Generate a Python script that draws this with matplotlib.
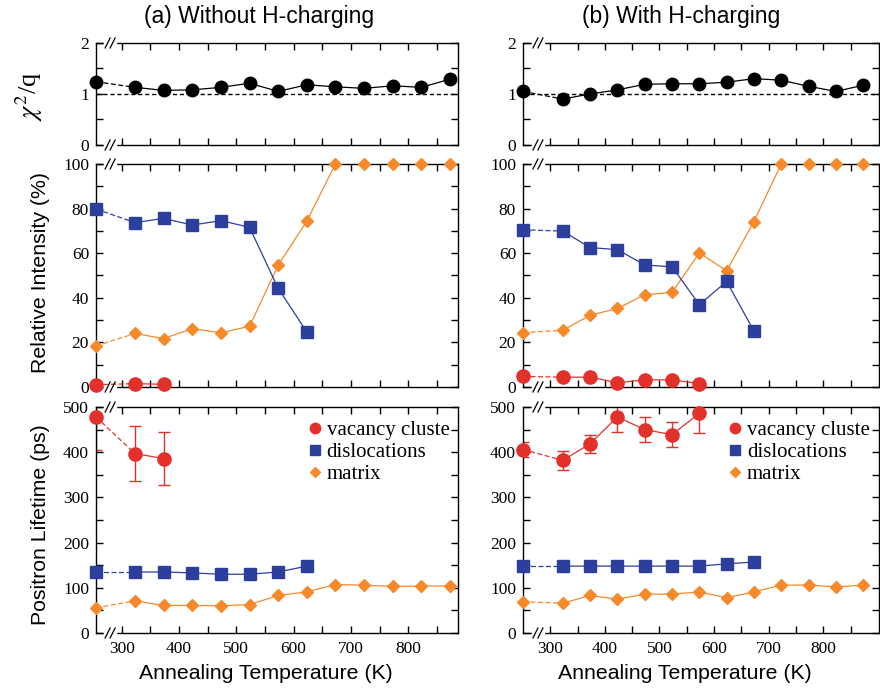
import matplotlib
matplotlib.use('Agg')
import matplotlib.pyplot as plt
from matplotlib.lines import Line2D
from matplotlib.ticker import FixedLocator, MultipleLocator

plt.rcParams['font.family'] = 'Liberation Serif'
plt.rcParams['mathtext.fontset'] = 'stix'
plt.rcParams['axes.linewidth'] = 1.0

SANS = 'Liberation Sans'
RED = '#e2312b'
BLUE = '#2c3f9c'
ORANGE = '#f6892a'
DASH = (0, (4, 2))

# annealing temperatures (K); first entry = as-received, drawn on the left edge
temp_a = [255, 323, 373, 423, 473, 523, 573, 623, 673, 723, 773, 823, 873]
temp_b = [250, 323, 373, 423, 473, 523, 573, 623, 673, 723, 773, 823, 873]

# (a) without H-charging
chi_a = [1.24, 1.13, 1.07, 1.08, 1.13, 1.21, 1.05, 1.18, 1.14, 1.11, 1.16, 1.13, 1.29]
vac_int_a = [1.0, 1.5, 1.2]
dis_int_a = [79.8, 73.7, 75.6, 72.6, 74.6, 71.6, 44.2, 24.7]
mat_int_a = [18.4, 24.0, 21.7, 26.2, 24.3, 27.2, 54.6, 74.4, 100, 100, 100, 100, 100]
vac_tau_a = [478, 397, 386]
vac_err_a = [72, 61, 59]
dis_tau_a = [135, 135, 135, 133, 130, 130, 135, 148]
mat_tau_a = [56, 71, 61, 61, 60, 63, 83, 91, 107, 106, 103, 104, 104]

# (b) with H-charging
chi_b = [1.05, 0.90, 1.00, 1.08, 1.19, 1.20, 1.20, 1.23, 1.30, 1.27, 1.15, 1.05, 1.17]
vac_int_b = [4.7, 4.4, 4.4, 1.9, 3.2, 3.2, 1.5]
dis_int_b = [70.5, 69.9, 62.5, 61.6, 54.7, 53.9, 36.9, 47.3, 25.1]
mat_int_b = [24.4, 25.4, 32.2, 35.2, 41.4, 42.4, 60.1, 52.1, 74.2, 100, 100, 100, 100]
vac_tau_b = [406, 382, 419, 478, 450, 439, 486]
vac_err_b = [17, 21, 20, 33, 27, 28, 43]
dis_tau_b = [148, 148, 148, 148, 148, 148, 148, 153, 157]
mat_tau_b = [69, 66, 83, 75, 86, 86, 91, 78, 91, 106, 106, 102, 106]

legend_labels = ['vacancy cluste', 'dislocations', 'matrix']


def series(ax, x, y, color, marker, ms, yerr=None):
    n = len(y)
    x = x[:n]
    # as-received -> first annealing step is dashed
    ax.plot(x[:2], y[:2], ls=DASH, color=color, lw=0.9)
    ax.plot(x[1:], y[1:], '-', color=color, lw=0.9)
    if yerr is not None:
        ax.errorbar(x, y, yerr=yerr, fmt='none', ecolor=color, elinewidth=1.0,
                    capsize=4, capthick=1.0)
    ax.plot(x, y, ls='none', marker=marker, ms=ms, color=color, mec=color,
            clip_on=False, zorder=5)


def add_break(ax, xf):
    pos = ax.get_position()
    wpx = pos.width * 880
    hpx = pos.height * 696
    for yb in (0, 1):
        ax.plot([xf - 5 / wpx, xf + 5 / wpx], [yb, yb], transform=ax.transAxes,
                color='white', lw=2.5, clip_on=False, zorder=6)
        for off in (-2.5, 2.5):
            ax.plot([xf + (off - 2.5) / wpx, xf + (off + 2.5) / wpx],
                    [yb - 5 / hpx, yb + 5 / hpx], transform=ax.transAxes,
                    color='black', lw=0.9, clip_on=False, zorder=7)


def style(ax, xlim, show_x):
    ax.set_xlim(*xlim)
    ax.xaxis.set_major_locator(FixedLocator([300, 400, 500, 600, 700, 800]))
    ax.xaxis.set_minor_locator(FixedLocator([350, 450, 550, 650, 750, 850]))
    ax.tick_params(which='both', direction='in', top=True, right=True,
                   length=5, width=1.0, labelsize=12.5)
    ax.tick_params(axis='x', pad=6, labelbottom=show_x)
    ax.tick_params(axis='y', pad=5)


fig = plt.figure(figsize=(8.8, 6.96), dpi=100)

cols = [
    (0.1091, 0.4114, (255, 887), 0.039, temp_a,
     chi_a, vac_int_a, dis_int_a, mat_int_a, vac_tau_a, vac_err_a, dis_tau_a, mat_tau_a, 0.588),
    (0.5943, 0.4045, (250, 902), 0.042, temp_b,
     chi_b, vac_int_b, dis_int_b, mat_int_b, vac_tau_b, vac_err_b, dis_tau_b, mat_tau_b, 0.579),
]

for (left, width, xlim, brk, temp, chi, vi, di, mi, vt, ve, dt, mt, legx) in cols:
    ax1 = fig.add_axes([left, 0.7917, width, 0.1466])
    ax2 = fig.add_axes([left, 0.4440, width, 0.3204])
    ax3 = fig.add_axes([left, 0.0905, width, 0.3247])

    # chi^2 / q
    ax1.axhline(1.0, color='black', lw=1.0, ls=(0, (3, 2)))
    series(ax1, temp, chi, 'black', 'o', 9)
    ax1.set_ylim(0, 2)
    ax1.yaxis.set_major_locator(MultipleLocator(1))
    ax1.yaxis.set_minor_locator(MultipleLocator(0.5))
    style(ax1, xlim, False)

    # relative intensity
    series(ax2, temp, mi, ORANGE, 'D', 6.2)
    series(ax2, temp, di, BLUE, 's', 9)
    series(ax2, temp, vi, RED, 'o', 9.5)
    ax2.set_ylim(0, 100)
    ax2.yaxis.set_major_locator(MultipleLocator(20))
    ax2.yaxis.set_minor_locator(MultipleLocator(10))
    style(ax2, xlim, False)

    # positron lifetime
    series(ax3, temp, mt, ORANGE, 'D', 6.2)
    series(ax3, temp, dt, BLUE, 's', 9)
    series(ax3, temp, vt, RED, 'o', 9.5, yerr=ve)
    ax3.set_ylim(0, 500)
    ax3.yaxis.set_major_locator(MultipleLocator(100))
    ax3.yaxis.set_minor_locator(MultipleLocator(50))
    style(ax3, xlim, True)

    handles = [Line2D([], [], ls='none', marker='o', ms=7.5, color=RED),
               Line2D([], [], ls='none', marker='s', ms=7, color=BLUE),
               Line2D([], [], ls='none', marker='D', ms=5, color=ORANGE)]
    ax3.legend(handles, legend_labels, loc='upper left', bbox_to_anchor=(legx, 0.94),
               frameon=False, fontsize=15, handlelength=0.55, handletextpad=0.3,
               labelspacing=0.12, borderpad=0, borderaxespad=0)

    for ax in (ax1, ax2, ax3):
        add_break(ax, brk)

# titles and labels
fig.text(0.294, 0.976, '(a) Without H-charging', family=SANS, fontsize=16.5,
         ha='center', va='center')
fig.text(0.774, 0.976, '(b) With H-charging', family=SANS, fontsize=16.5,
         ha='center', va='center')
fig.text(0.302, 0.033, 'Annealing Temperature (K)', family=SANS, fontsize=15.3,
         ha='center', va='center')
fig.text(0.778, 0.033, 'Annealing Temperature (K)', family=SANS, fontsize=15.3,
         ha='center', va='center')
fig.text(0.033, 0.862, r'$\chi^2$/q', fontsize=19, rotation=90,
         ha='center', va='center')
fig.text(0.0455, 0.609, 'Relative Intensity (%)', family=SANS, fontsize=15.3,
         rotation=90, ha='center', va='center')
fig.text(0.0455, 0.246, 'Positron Lifetime (ps)', family=SANS, fontsize=15.3,
         rotation=90, ha='center', va='center')

fig.savefig('out.png', dpi=100)
